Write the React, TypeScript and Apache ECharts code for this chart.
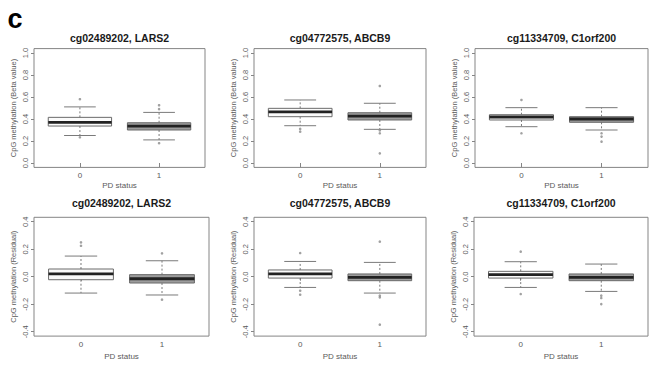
import React, { useEffect, useRef } from "react";
import * as echarts from "echarts";

// ---------- data ----------
const panelLetter = "c";
const titles = [
  "cg02489202, LARS2",
  "cg04772575, ABCB9",
  "cg11334709, C1orf200",
  "cg02489202, LARS2",
  "cg04772575, ABCB9",
  "cg11334709, C1orf200",
];
const betaName = "CpG methylation (Beta value)";
const residualName = "CpG methylation (Residual)";
const xName = "PD status";
const groupLabels = ["0", "1"];
const betaTicks = [0, 0.2, 0.4, 0.6, 0.8, 1.0];
const residualTicks = [-0.4, -0.2, 0, 0.2, 0.4];

// [lower whisker, Q1, median, Q3, upper whisker] per group (0, 1)
const lars2BetaStats = [
  [0.25, 0.336, 0.37, 0.415, 0.51],
  [0.21, 0.3, 0.336, 0.366, 0.46],
];
const lars2BetaOutliers = [
  [0.58, 0.234],
  [0.525, 0.49, 0.18],
];
const abcb9BetaStats = [
  [0.339, 0.421, 0.464, 0.497, 0.573],
  [0.306, 0.391, 0.427, 0.457, 0.543],
];
const abcb9BetaOutliers = [
  [0.31, 0.285],
  [0.7, 0.296, 0.27, 0.088],
];
const c1orfBetaStats = [
  [0.33, 0.391, 0.418, 0.439, 0.503],
  [0.3, 0.37, 0.4, 0.421, 0.503],
];
const c1orfBetaOutliers = [
  [0.573, 0.27],
  [0.27, 0.24, 0.194],
];
const lars2ResStats = [
  [-0.119, -0.022, 0.02, 0.056, 0.15],
  [-0.133, -0.046, -0.015, 0.015, 0.116],
];
const lars2ResOutliers = [
  [0.25, 0.225],
  [0.17, -0.167],
];
const abcb9ResStats = [
  [-0.078, -0.01, 0.02, 0.049, 0.111],
  [-0.119, -0.029, -0.005, 0.02, 0.104],
];
const abcb9ResOutliers = [
  [0.172, -0.102, -0.131],
  [0.255, -0.138, -0.15, -0.349],
];
const c1orfResStats = [
  [-0.078, -0.01, 0.015, 0.039, 0.109],
  [-0.107, -0.029, -0.005, 0.02, 0.092],
];
const c1orfResOutliers = [
  [0.182, -0.126],
  [-0.138, -0.155, -0.199],
];

const panelStats = [
  lars2BetaStats,
  abcb9BetaStats,
  c1orfBetaStats,
  lars2ResStats,
  abcb9ResStats,
  c1orfResStats,
];
const panelOutliers = [
  lars2BetaOutliers,
  abcb9BetaOutliers,
  c1orfBetaOutliers,
  lars2ResOutliers,
  abcb9ResOutliers,
  c1orfResOutliers,
];

// ---------- layout / style ----------
const grids = [
  { left: 34, top: 48.6, width: 171, height: 118.8 },
  { left: 254, top: 48.6, width: 172, height: 118.8 },
  { left: 475, top: 48.6, width: 173, height: 118.8 },
  { left: 34, top: 217.3, width: 175, height: 118.8 },
  { left: 254, top: 217.3, width: 172, height: 118.8 },
  { left: 474, top: 217.3, width: 174, height: 118.8 },
];
const FONT = "'Liberation Sans', Arial, Helvetica, sans-serif";
const frameColor = "#858585";
const lineColor = "#7a7a7a";
const labelColor = "#5a5a5a";
const boxFills = ["#fbfbfb", "#9c9c9c"];

export default function App() {
  const ref = useRef<HTMLDivElement>(null);

  useEffect(() => {
    if (!ref.current) return;
    const chart = echarts.init(ref.current, null, { renderer: "svg" });

    const renderBox = (params: any, api: any) => {
      const x = api.value(0);
      const pLo = api.coord([x, api.value(1)]);
      const pQ1 = api.coord([x, api.value(2)]);
      const pMed = api.coord([x, api.value(3)]);
      const pQ3 = api.coord([x, api.value(4)]);
      const pHi = api.coord([x, api.value(5)]);
      const bw = api.size([0.8, 0])[0];
      const cx = pLo[0];
      const fill = boxFills[params.dataIndex % boxFills.length];
      return {
        type: "group",
        children: [
          {
            type: "line",
            shape: { x1: cx, y1: pQ3[1], x2: cx, y2: pHi[1] },
            style: { stroke: lineColor, lineWidth: 1, lineDash: [2, 2] },
          },
          {
            type: "line",
            shape: { x1: cx, y1: pQ1[1], x2: cx, y2: pLo[1] },
            style: { stroke: lineColor, lineWidth: 1, lineDash: [2, 2] },
          },
          {
            type: "line",
            shape: { x1: cx - bw / 4, y1: pHi[1], x2: cx + bw / 4, y2: pHi[1] },
            style: { stroke: lineColor, lineWidth: 1 },
          },
          {
            type: "line",
            shape: { x1: cx - bw / 4, y1: pLo[1], x2: cx + bw / 4, y2: pLo[1] },
            style: { stroke: lineColor, lineWidth: 1 },
          },
          {
            type: "rect",
            shape: { x: cx - bw / 2, y: pQ3[1], width: bw, height: pQ1[1] - pQ3[1] },
            style: { fill, stroke: "#6a6a6a", lineWidth: 1 },
          },
          {
            type: "line",
            shape: { x1: cx - bw / 2, y1: pMed[1], x2: cx + bw / 2, y2: pMed[1] },
            style: { stroke: "#222222", lineWidth: 2.8 },
          },
        ],
      };
    };

    const gridOpt: any[] = [];
    const xAxes: any[] = [];
    const yAxes: any[] = [];
    const series: any[] = [];
    const graphics: any[] = [];

    grids.forEach((g, i) => {
      const isBeta = i < 3;
      const ticks = isBeta ? betaTicks : residualTicks;
      const pad = (ticks[ticks.length - 1] - ticks[0]) * 0.04;
      gridOpt.push({
        ...g,
        show: true,
        borderColor: frameColor,
        borderWidth: 1,
        backgroundColor: "transparent",
        containLabel: false,
      });
      xAxes.push({
        gridIndex: i,
        type: "value",
        min: 0.42,
        max: 2.58,
        name: xName,
        nameLocation: "middle",
        nameGap: isBeta ? 14 : 16,
        nameTextStyle: { fontFamily: FONT, fontSize: 8, color: labelColor },
        axisLine: { show: false },
        splitLine: { show: false },
        axisTick: {
          show: true,
          length: 4,
          customValues: [1, 2],
          lineStyle: { color: frameColor, width: 1 },
        },
        axisLabel: {
          customValues: [1, 2],
          margin: 4,
          fontFamily: FONT,
          fontSize: 8,
          color: labelColor,
          formatter: (v: number) => groupLabels[Math.round(v) - 1] ?? "",
        },
      });
      yAxes.push({
        gridIndex: i,
        type: "value",
        min: ticks[0] - pad,
        max: ticks[ticks.length - 1] + pad,
        name: isBeta ? betaName : residualName,
        nameLocation: "middle",
        nameRotate: 90,
        nameGap: 17,
        nameTextStyle: { fontFamily: FONT, fontSize: 7.5, color: labelColor },
        axisLine: { show: false },
        splitLine: { show: false },
        axisTick: {
          show: true,
          length: 3,
          customValues: ticks,
          lineStyle: { color: frameColor, width: 1 },
        },
        axisLabel: {
          customValues: ticks,
          rotate: 90,
          margin: 5,
          fontFamily: FONT,
          fontSize: 7.5,
          color: labelColor,
          formatter: (v: number) => v.toFixed(1),
        },
      });
      series.push({
        type: "custom",
        xAxisIndex: i,
        yAxisIndex: i,
        renderItem: renderBox,
        data: panelStats[i].map((s, gi) => [gi + 1, ...s]),
        z: 2,
      });
      series.push({
        type: "scatter",
        xAxisIndex: i,
        yAxisIndex: i,
        symbol: "circle",
        symbolSize: 2.6,
        itemStyle: { color: "#8a8a8a" },
        data: panelOutliers[i].flatMap((arr, gi) => arr.map((v) => [gi + 1, v])),
        z: 3,
      });
      graphics.push({
        type: "text",
        x: g.left + g.width / 2,
        y: isBeta ? 38.3 : 203.3,
        style: {
          text: titles[i],
          fontFamily: FONT,
          fontSize: 10.5,
          fontWeight: "bold",
          fill: "#1a1a1a",
          align: "center",
          verticalAlign: "middle",
          textAlign: "center",
          textVerticalAlign: "middle",
        },
      });
    });

    graphics.push({
      type: "text",
      x: 15,
      y: 19,
      style: {
        text: panelLetter,
        fontFamily: FONT,
        fontSize: 27,
        fontWeight: "bold",
        fill: "#000",
        align: "center",
        verticalAlign: "middle",
        textAlign: "center",
        textVerticalAlign: "middle",
      },
    });

    chart.setOption({
      animation: false,
      backgroundColor: "#ffffff",
      grid: gridOpt,
      xAxis: xAxes,
      yAxis: yAxes,
      series,
      graphic: graphics,
    });

    return () => chart.dispose();
  }, []);

  return (
    <div
      ref={ref}
      style={{ position: "fixed", left: 0, top: 0, width: 663, height: 371 }}
    />
  );
}
